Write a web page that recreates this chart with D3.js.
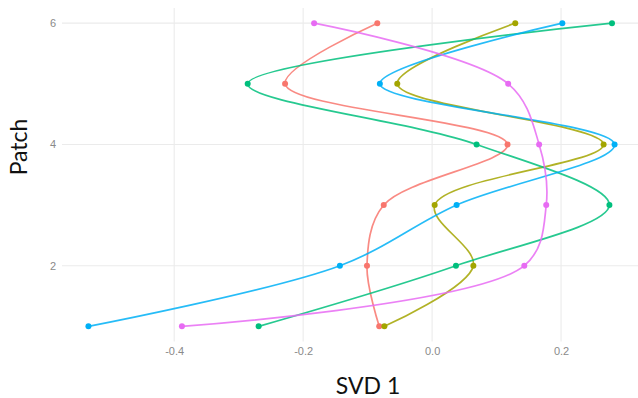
<!DOCTYPE html>
<html>
<head>
<meta charset="utf-8">
<script src="https://cdn.jsdelivr.net/npm/d3@7"></script>
<style>
  html, body { margin: 0; padding: 0; background: #fff; }
  svg { display: block; }
</style>
</head>
<body>
<svg id="chart" width="638" height="398"></svg>
<script>
const patches = [1, 2, 3, 4, 5, 6];
const seriesNames = ["A", "B", "C", "D", "E"];
const seriesColors = ["#F8766D", "#A3A500", "#00BF7D", "#00B0F6", "#E76BF3"];
const valuesA = [-0.082, -0.101, -0.075, 0.117, -0.228, -0.085];
const valuesB = [-0.074, 0.064, 0.004, 0.266, -0.054, 0.129];
const valuesC = [-0.269, 0.037, 0.275, 0.069, -0.286, 0.279];
const valuesD = [-0.533, -0.143, 0.038, 0.283, -0.081, 0.202];
const valuesE = [-0.388, 0.143, 0.177, 0.166, 0.118, -0.183];
const xTicks = [-0.4, -0.2, 0.0, 0.2];
const xTickLabels = ["-0.4", "-0.2", "0.0", "0.2"];
const yTicks = [2, 4, 6];
const xTitle = "SVD 1";
const yTitle = "Patch";

const allValues = [valuesA, valuesB, valuesC, valuesD, valuesE];
const series = seriesNames.map((n, i) => ({
  name: n, color: seriesColors[i],
  pts: patches.map((p, j) => ({ x: allValues[i][j], y: p }))
}));

const svg = d3.select("#chart");
const x = d3.scaleLinear().domain([-0.574, 0.324]).range([62, 641]);
const y = d3.scaleLinear().domain([0.75, 6.25]).range([341.5, 8]);

// grid
const grid = svg.append("g");
grid.selectAll("line.vx").data(xTicks).enter().append("line")
  .attr("x1", d => x(d)).attr("x2", d => x(d))
  .attr("y1", y.range()[0]).attr("y2", y.range()[1])
  .attr("stroke", "#ebebeb").attr("stroke-width", 1.1);
grid.selectAll("line.hy").data(yTicks).enter().append("line")
  .attr("y1", d => y(d)).attr("y2", d => y(d))
  .attr("x1", x.range()[0]).attr("x2", x.range()[1])
  .attr("stroke", "#ebebeb").attr("stroke-width", 1.1);

// axes (labels only)
const xAxis = d3.axisBottom(x).tickValues(xTicks).tickFormat((d, i) => xTickLabels[i]).tickSize(0).tickPadding(0);
const gx = svg.append("g").attr("transform", "translate(0,347)").call(xAxis);
gx.select(".domain").remove();
gx.selectAll("text").attr("fill", "#8a8a8a").attr("font-size", 11)
  .attr("font-family", "Liberation Sans, Arial, sans-serif");

const yAxis = d3.axisLeft(y).tickValues(yTicks).tickFormat(d3.format("d")).tickSize(0).tickPadding(0);
const gy = svg.append("g").attr("transform", "translate(56,0)").call(yAxis);
gy.select(".domain").remove();
gy.selectAll("text").attr("fill", "#8a8a8a").attr("font-size", 11)
  .attr("font-family", "Liberation Sans, Arial, sans-serif");

// lines
const line = d3.line().x(d => x(d.x)).y(d => y(d.y)).curve(d3.curveCatmullRom.alpha(0.5));
svg.append("g").selectAll("path").data(series).enter().append("path")
  .attr("d", d => line(d.pts))
  .attr("fill", "none").attr("stroke", d => d.color)
  .attr("stroke-width", 1.7).attr("stroke-opacity", 0.85);

// points
const pg = svg.append("g");
series.forEach(s => {
  pg.selectAll(null).data(s.pts).enter().append("circle")
    .attr("cx", d => x(d.x)).attr("cy", d => y(d.y)).attr("r", 3)
    .attr("fill", s.color);
});

// titles
svg.append("text").attr("x", 368).attr("y", 394).attr("text-anchor", "middle")
  .attr("font-family", "Lato, sans-serif").attr("font-size", 23).attr("fill", "#111")
  .text(xTitle);
svg.append("text").attr("transform", "translate(27,147) rotate(-90)").attr("text-anchor", "middle")
  .attr("font-family", "Lato, sans-serif").attr("font-size", 23).attr("fill", "#111")
  .text(yTitle);
</script>
</body>
</html>
